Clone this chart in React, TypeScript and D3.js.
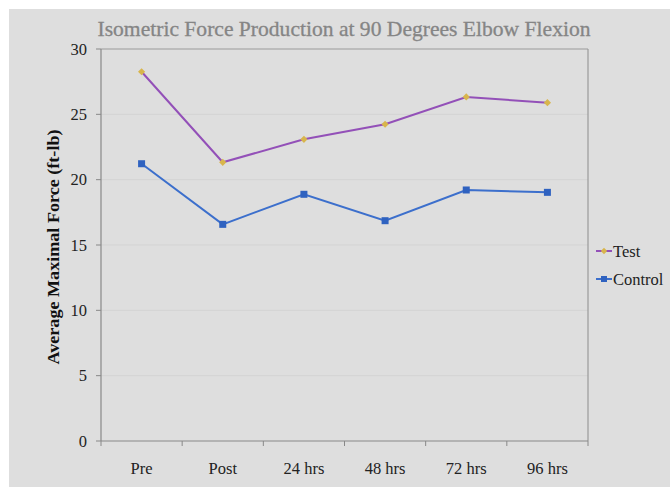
import React from "react";
import * as d3 from "d3";

const categories = ["Pre", "Post", "24 hrs", "48 hrs", "72 hrs", "96 hrs"];
const testValues = [28.26, 21.33, 23.09, 24.24, 26.33, 25.89];
const controlValues = [21.22, 16.58, 18.88, 16.86, 19.21, 19.03];
const yTicks = [0, 5, 10, 15, 20, 25, 30];

const W = 670, H = 487;
const left = 101, right = 588, top = 49, bottom = 441;
const FONT = "'Liberation Serif', 'DejaVu Serif', serif";

export default function App() {
  const x = d3.scaleBand<string>().domain(categories).range([left, right]);
  const y = d3.scaleLinear().domain([0, 30]).range([bottom, top]);
  const cx = (c: string) => (x(c) as number) + x.bandwidth() / 2;
  const line = d3.line<number>().x((_, i) => cx(categories[i])).y((d) => y(d));
  const testColor = "#9350b8";
  const testMarker = "#d8b54c";
  const ctrlColor = "#3c6fcc";
  const ctrlMarker = "#2f62c0";
  const diamond = (px: number, py: number, r: number) =>
    `M${px},${py - r}L${px + r},${py}L${px},${py + r}L${px - r},${py}Z`;
  return (
    <svg width={W} height={H} style={{ position: "absolute", left: 0, top: 0 }}>
      <rect x={9} y={9} width={W - 9} height={H - 9} fill="#dedede" />
      <text x={344} y={36} textAnchor="middle" fontFamily={FONT} fontSize={21} fill="#858585"
        stroke="#858585" strokeWidth={0.3} textLength={493} lengthAdjust="spacingAndGlyphs">
        Isometric Force Production at 90 Degrees Elbow Flexion
      </text>
      {yTicks.filter((t) => t > 0 && t < 30).map((t) => (
        <line key={t} x1={left} x2={right} y1={y(t)} y2={y(t)} stroke="#d3d3d3" strokeWidth={1} />
      ))}
      <line x1={left} x2={right} y1={top} y2={top} stroke="#999" strokeWidth={1.2} />
      <line x1={right} x2={right} y1={top} y2={bottom} stroke="#999" strokeWidth={1.2} />
      <line x1={left} x2={left} y1={top} y2={bottom} stroke="#888" strokeWidth={1.2} />
      <line x1={left} x2={right} y1={bottom} y2={bottom} stroke="#888" strokeWidth={1.2} />
      {yTicks.map((t) => (
        <g key={t}>
          <line x1={left - 5} x2={left} y1={y(t)} y2={y(t)} stroke="#888" />
          <text x={87} y={y(t) + 5.5} textAnchor="end" fontFamily={FONT} fontSize={16.5} fill="#222">
            {t}
          </text>
        </g>
      ))}
      {categories.map((c, i) => (
        <line key={"t" + i} x1={x(c)} x2={x(c)} y1={bottom} y2={bottom + 5} stroke="#888" />
      ))}
      <line x1={right} x2={right} y1={bottom} y2={bottom + 5} stroke="#888" />
      {categories.map((c) => (
        <text key={c} x={cx(c)} y={474} textAnchor="middle" fontFamily={FONT} fontSize={16.5} fill="#222">
          {c}
        </text>
      ))}
      <text
        transform={`translate(59,247) rotate(-90)`}
        textAnchor="middle"
        fontFamily={FONT}
        fontSize={16.5}
        fontWeight="bold"
        fill="#111"
        textLength={235}
        lengthAdjust="spacingAndGlyphs"
      >
        Average Maximal Force (ft-lb)
      </text>
      <path d={line(testValues) || ""} fill="none" stroke={testColor} strokeWidth={2} />
      <path d={line(controlValues) || ""} fill="none" stroke={ctrlColor} strokeWidth={2} />
      {testValues.map((v, i) => (
        <path key={"d" + i} d={diamond(cx(categories[i]), y(v), 3.6)} fill={testMarker} />
      ))}
      {controlValues.map((v, i) => (
        <rect key={"s" + i} x={cx(categories[i]) - 3.5} y={y(v) - 3.5} width={7} height={7} fill={ctrlMarker} />
      ))}
      <g>
        <line x1={596} x2={612} y1={251} y2={251} stroke={testColor} strokeWidth={2} />
        <path d={diamond(604, 251, 3.2)} fill={testMarker} />
        <text x={613} y={256.5} fontFamily={FONT} fontSize={16.5} fill="#222">Test</text>
        <line x1={596} x2={612} y1={279} y2={279} stroke={ctrlColor} strokeWidth={2} />
        <rect x={601} y={276} width={6} height={6} fill={ctrlMarker} />
        <text x={613} y={284.5} fontFamily={FONT} fontSize={16.5} fill="#222">Control</text>
      </g>
    </svg>
  );
}
